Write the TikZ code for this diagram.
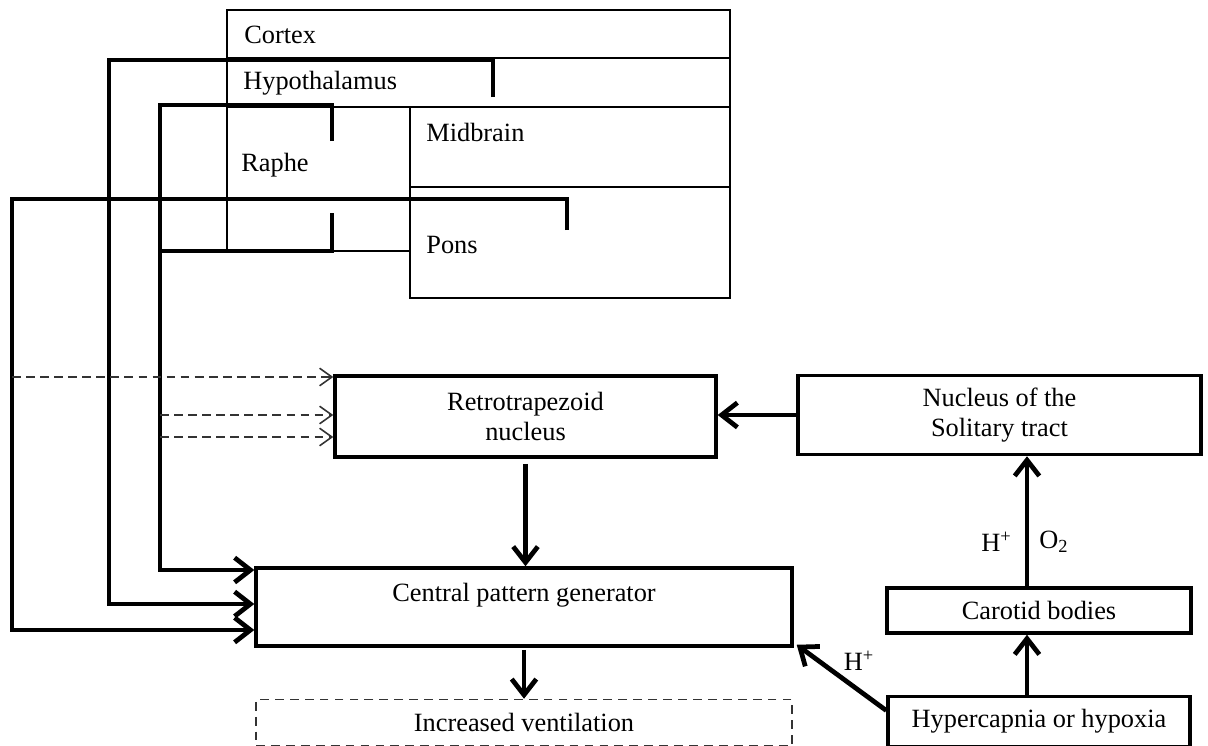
\documentclass[tikz,border=0pt]{standalone}
\usepackage{fontspec}
\setmainfont{Liberation Serif}
\usetikzlibrary{arrows.meta,positioning,calc}

\tikzset{
box/.style={draw,line width=2pt,inner sep=0pt,align=center,font=\fontsize{15}{17}\selectfont},
conn/.style={line width=2.7pt,-{Straight Barb[length=9pt,width=14pt]}},
brace/.style={line width=2.7pt},
dashconn/.style={draw=black!80,line width=0.9pt,dash pattern=on 5pt off 3pt,-{Straight Barb[length=7pt,width=10pt]}},
brain/.style={line width=1.1pt},
lbl/.style={font=\fontsize{15}{17}\selectfont,inner sep=0pt}
}

\begin{document}
\begin{tikzpicture}[x=0.02cm,y=-0.02cm]
\useasboundingbox (0,0) rectangle (1208,745);
\draw[brain] (227,10) rectangle (730,58) (227,58) rectangle (730,107)
  (410,107) rectangle (730,187) (410,187) rectangle (730,298);
\draw[brain] (227,107) -- (227,251) -- (410,251);
\node[lbl,anchor=west] (cortex) at (244,35) {Cortex};
\node[lbl,anchor=west] (hypoth) at (243,83) {Hypothalamus};
\node[lbl,anchor=west] (raphe) at (241,165) {Raphe};
\node[lbl,anchor=west] (midbrain) at (426,132) {Midbrain};
\node[lbl,anchor=west] (pons) at (426,245) {Pons};

\node[box,minimum width=7.62cm,minimum height=1.62cm] (rtn) at (525.5,416.5) {Retrotrapezoid\\nucleus};
\node[box,minimum width=8.06cm,minimum height=1.58cm] (nts) at (999.5,415) {Nucleus of the\\Solitary tract};
\node[box,minimum width=10.72cm,minimum height=1.56cm] (cpg) at (524,607) {Central pattern generator\\~};
\node[box,draw=black!80,line width=0.9pt,dash pattern=on 5pt off 3.5pt,minimum width=10.72cm,minimum height=0.92cm,below=1.02cm of cpg] (iv) {Increased ventilation};
\node[box,minimum width=6.08cm,minimum height=0.9cm] (cb) at (1039,610.5) {Carotid bodies};
\node[box,minimum width=6.04cm,minimum height=1cm,below=1.2cm of cb] (hyp) {Hypercapnia or hypoxia};

\coordinate (ht) at (493,97);
\coordinate (rt) at (332,141);
\coordinate (rb) at (332,213);
\coordinate (pt) at (567,230);
\draw[conn] (ht) -- (493,60) -- (109,60) |- ([yshift=0.06cm]cpg.west);
\draw[conn] (rt) -- (332,105) -- (160,105) |- ([yshift=0.74cm]cpg.west);
\draw[brace] (rb) -- (332,251) -- (160,251);
\draw[conn] (pt) -- (567,199) -- (12,199) |- ([yshift=-0.46cm]cpg.west);

\coordinate (d1) at (12,377);
\coordinate (d2) at (160,415);
\coordinate (d3) at (160,437);
\foreach \d in {d1,d2,d3}
  \draw[dashconn] (\d) -- (\d -| rtn.west);

\draw[conn] (nts.west) -- (nts.west -| rtn.east);
\draw[conn] ([yshift=-0.1cm]rtn.south) -- (rtn.south |- cpg.north);
\draw[conn] ([yshift=-0.04cm]cpg.south) -- (iv.north);
\coordinate (ax) at (1027,0);
\draw[conn] (ax |- hyp.north) -- (ax |- cb.south);
\draw[conn] (ax |- cb.north) -- node[lbl,pos=0.34,left=0.26cm] (hplus) {H\textsuperscript{+}}
  node[lbl,pos=0.34,right=0.2cm] (otwo) {O\textsubscript{2}} (ax |- nts.south);
\draw[conn] ([yshift=0.22cm]hyp.west) -- node[lbl,pos=0.5,anchor=south west,yshift=0.1cm] (hplus2) {H\textsuperscript{+}}
  ([shift={(0.06cm,0.06cm)}]cpg.south east);
\end{tikzpicture}
\end{document}
